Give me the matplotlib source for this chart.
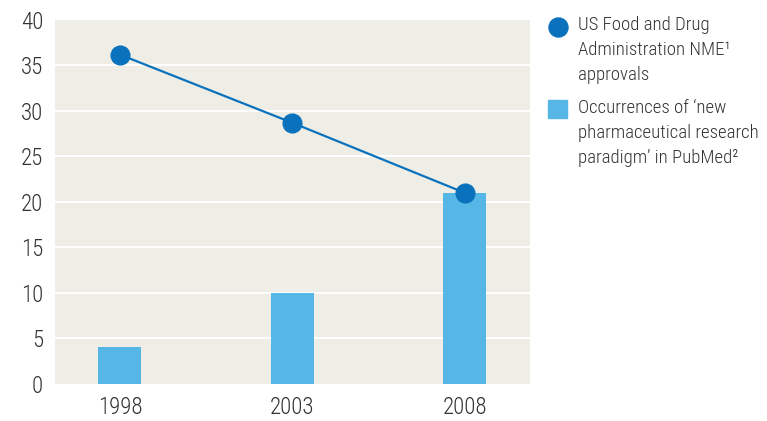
import matplotlib

matplotlib.use("Agg")
import matplotlib.pyplot as plt
from matplotlib import font_manager
from matplotlib.lines import Line2D
from matplotlib.patches import Rectangle
import numpy as np

YEARS = ["1998", "2003", "2008"]
NME_APPROVALS = [36.2, 28.7, 21.0]
PUBMED_OCCURRENCES = [4.1, 10.0, 21.0]
Y_TICKS = [0, 5, 10, 15, 20, 25, 30, 35, 40]
LINE_LABEL = "US Food and Drug\nAdministration NME\u00b9\napprovals"
BAR_LABEL = "Occurrences of \u2018new\npharmaceutical research\nparadigm\u2019 in PubMed\u00b2"

LINE_COLOR = "#0a72bd"
BAR_COLOR = "#56b7e6"
BG_COLOR = "#efeee6"
TEXT_COLOR = "#333333"

# the original uses a condensed grotesque; take the first narrow face on hand
fonts = font_manager.fontManager.ttflist
names = {f.name for f in fonts}
stretch = "normal"
legend_size = 12
family = ["Liberation Sans", "DejaVu Sans"]
for candidate in ("Roboto Condensed", "Liberation Sans Narrow", "Open Sans Condensed"):
    if candidate in names:
        family = [candidate, "DejaVu Sans"]
        legend_size = 13.5
        break
else:
    if any(f.name == "DejaVu Sans" and f.stretch == "condensed" for f in fonts):
        family = ["DejaVu Sans"]
        stretch = "condensed"
        legend_size = 12.5
plt.rcParams["font.family"] = family
plt.rcParams["font.stretch"] = stretch
plt.rcParams["font.weight"] = "light"

fig = plt.figure(figsize=(7.67, 4.21), dpi=100)
ax = fig.add_axes([0.0717, 0.0879, 0.619, 0.8646])
ax.set_facecolor(BG_COLOR)

x = np.arange(len(YEARS))
ax.bar(x, PUBMED_OCCURRENCES, width=0.25, color=BAR_COLOR, zorder=2)
ax.plot(x, NME_APPROVALS, color=LINE_COLOR, linewidth=1.6, marker="o",
        markersize=13.5, zorder=3)

ax.set_xlim(-0.376, 2.376)
ax.set_ylim(0, 40)
ax.set_yticks(Y_TICKS)
ax.set_xticks(x, YEARS)
for value in Y_TICKS[1:-1]:
    ax.axhline(value, color="white", linewidth=1.4, zorder=1)
for spine in ax.spines.values():
    spine.set_visible(False)
ax.tick_params(axis="both", length=0, labelsize=16.5, colors=TEXT_COLOR)
ax.tick_params(axis="y", pad=8.5)
ax.tick_params(axis="x", pad=9)

# legend, drawn by hand so markers line up with the first text line
fig.add_artist(Line2D([0.7275], [0.935], transform=fig.transFigure, marker="o",
                      markersize=13.7, color=LINE_COLOR, linestyle="none"))
fig.text(0.754, 0.962, LINE_LABEL, fontsize=legend_size, color=TEXT_COLOR, va="top",
         linespacing=1.5)
fig.add_artist(Rectangle((0.7145, 0.720), 0.0245, 0.043, transform=fig.transFigure,
                         color=BAR_COLOR))
fig.text(0.754, 0.764, BAR_LABEL, fontsize=legend_size, color=TEXT_COLOR, va="top",
         linespacing=1.5)

fig.savefig("out.png", dpi=100)
